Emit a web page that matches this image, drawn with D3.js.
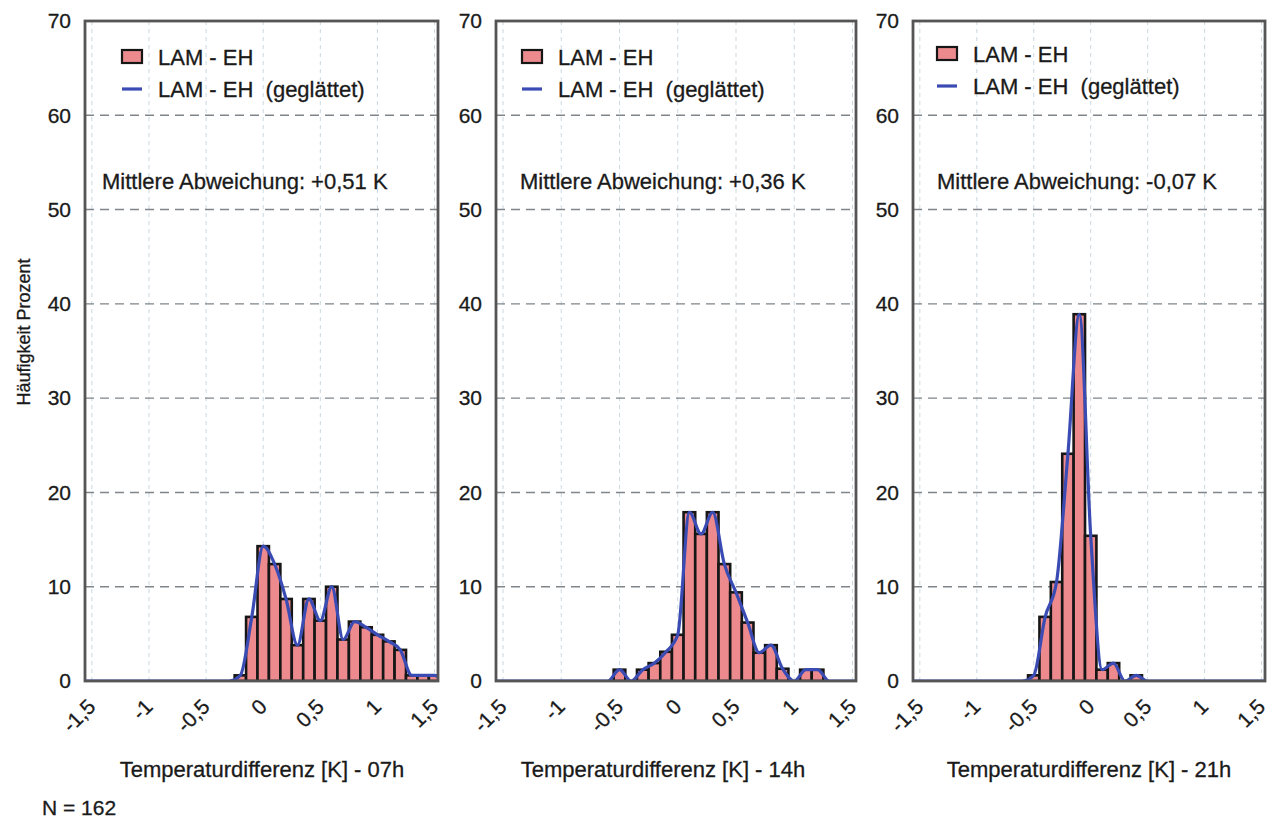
<!DOCTYPE html>
<html lang="de">
<head>
<meta charset="utf-8">
<title>Temperaturdifferenz LAM - EH</title>
<script src="https://cdn.jsdelivr.net/npm/d3@7"></script>
<style>
  html, body { margin: 0; padding: 0; background: #fff; }
  svg { display: block; font-family: "Liberation Sans", Arial, sans-serif; }
  svg text { fill: #1a1a1a; stroke: #1a1a1a; stroke-width: 0.3px; }
</style>
</head>
<body>
<div id="grafico"></div>
<script>
// ==============================
// DATOS
// ==============================

// Klassenmitten (K) und Häufigkeit (%) je Termin
const klassen07 = [-0.2, -0.1, 0, 0.1, 0.2, 0.3, 0.4, 0.5, 0.6, 0.7, 0.8, 0.9, 1.0, 1.1, 1.2, 1.3, 1.4, 1.5];
const werte07   = [0.6, 6.8, 14.3, 12.4, 8.7, 3.8, 8.7, 6.4, 10.0, 4.4, 6.3, 5.7, 4.9, 4.2, 3.3, 0.6, 0.6, 0.6];

const klassen14 = [-0.5, -0.4, -0.3, -0.2, -0.1, 0, 0.1, 0.2, 0.3, 0.4, 0.5, 0.6, 0.7, 0.8, 0.9, 1.0, 1.1, 1.2];
const werte14   = [1.2, 0, 1.2, 1.9, 3.1, 4.9, 17.9, 15.6, 17.9, 12.4, 9.4, 6.2, 3.0, 3.8, 1.3, 0, 1.2, 1.2];

const klassen21 = [-0.5, -0.4, -0.3, -0.2, -0.1, 0, 0.1, 0.2, 0.3, 0.4];
const werte21   = [0.6, 6.8, 10.5, 24.1, 38.9, 15.4, 1.2, 1.9, 0, 0.6];

const achsenTitel = ["Temperaturdifferenz [K] - 07h", "Temperaturdifferenz [K] - 14h", "Temperaturdifferenz [K] - 21h"];
const abweichungen = ["Mittlere Abweichung: +0,51 K", "Mittlere Abweichung: +0,36 K", "Mittlere Abweichung: -0,07 K"];

const yTicks = [0, 10, 20, 30, 40, 50, 60, 70];
const xTicks = [-1.5, -1, -0.5, 0, 0.5, 1, 1.5];
const xTickLabels = ["-1,5", "-1", "-0,5", "0", "0,5", "1", "1,5"];

const leyendaTextos = ["LAM - EH", "LAM - EH  (geglättet)"];
const yTitel = "Häufigkeit Prozent";
const anzahlText = "N = 162";

// ==============================
// CONFIGURACIÓN
// ==============================

const WIDTH = 1277;
const HEIGHT = 821;
const TOP = 21;
const BASE = 681;
const X_DOMINIO = [-1.56, 1.53];
const ANCHO_CLASE = 0.1;
const FUENTE = 22;

const COLOR_BARRA = "#ec8a8e";
const COLOR_LINEA = "#3a4bb3";
const COLOR_MARCO = "#555";

const paneles = [
  { izq: 85,  der: 438,  klassen: klassen07, werte: werte07, leyX: 122, leyDy: 0,  textoX: 102, tituloX: 262 },
  { izq: 496, der: 856,  klassen: klassen14, werte: werte14, leyX: 522, leyDy: 0,  textoX: 520, tituloX: 663 },
  { izq: 913, der: 1265, klassen: klassen21, werte: werte21, leyX: 937, leyDy: -3, textoX: 937, tituloX: 1089 }
];

// ==============================
// SVG BASE
// ==============================

const svg = d3.select("#grafico").append("svg")
  .attr("width", WIDTH)
  .attr("height", HEIGHT);

svg.append("rect")
  .attr("width", WIDTH)
  .attr("height", HEIGHT)
  .attr("fill", "#fff");

const y = d3.scaleLinear().domain([0, 70]).range([BASE, TOP]);

// ==============================
// PANELES
// ==============================

paneles.forEach((p, i) => {
  const x = d3.scaleLinear().domain(X_DOMINIO).range([p.izq, p.der]);
  const g = svg.append("g");

  const clipId = "clip-" + i;
  svg.append("clipPath").attr("id", clipId)
    .append("rect")
    .attr("x", p.izq).attr("y", TOP)
    .attr("width", p.der - p.izq).attr("height", BASE - TOP);

  // rejilla vertical
  g.selectAll(".vgrid")
    .data(xTicks)
    .join("line")
    .attr("x1", d => x(d)).attr("x2", d => x(d))
    .attr("y1", TOP).attr("y2", BASE)
    .attr("stroke", "#c9d9e0")
    .attr("stroke-width", 1)
    .attr("stroke-dasharray", "4,4");

  // rejilla horizontal
  g.selectAll(".hgrid")
    .data(yTicks.filter(d => d > 0 && d < 70))
    .join("line")
    .attr("x1", p.izq).attr("x2", p.der)
    .attr("y1", d => y(d)).attr("y2", d => y(d))
    .attr("stroke", "#7f858a")
    .attr("stroke-width", 1.4)
    .attr("stroke-dasharray", "9,6");

  const datos = p.klassen.map((k, j) => ({ k, v: p.werte[j] }));
  const plot = g.append("g").attr("clip-path", `url(#${clipId})`);

  // barras del histograma
  plot.selectAll("rect")
    .data(datos.filter(d => d.v > 0))
    .join("rect")
    .attr("x", d => x(d.k - ANCHO_CLASE / 2))
    .attr("width", d => x(d.k + ANCHO_CLASE / 2) - x(d.k - ANCHO_CLASE / 2))
    .attr("y", d => y(d.v))
    .attr("height", d => BASE - y(d.v))
    .attr("fill", COLOR_BARRA)
    .attr("stroke", "#161616")
    .attr("stroke-width", 2.6);

  // curva suavizada
  const primera = datos[0].k, ultima = datos[datos.length - 1].k;
  const puntos = [
    { k: X_DOMINIO[0], v: 0 },
    { k: primera - ANCHO_CLASE, v: 0 },
    ...datos,
    { k: ultima + ANCHO_CLASE, v: 0 },
    { k: X_DOMINIO[1] + 0.2, v: 0 }
  ];

  const linea = d3.line()
    .x(d => x(d.k))
    .y(d => y(d.v))
    .curve(d3.curveMonotoneX);

  plot.append("path")
    .datum(puntos)
    .attr("d", linea)
    .attr("fill", "none")
    .attr("stroke", COLOR_LINEA)
    .attr("stroke-width", 3.2);

  // marco
  g.append("rect")
    .attr("x", p.izq).attr("y", TOP)
    .attr("width", p.der - p.izq).attr("height", BASE - TOP)
    .attr("fill", "none")
    .attr("stroke", COLOR_MARCO)
    .attr("stroke-width", 2.8);

  // etiquetas eje Y
  g.selectAll(".ytick")
    .data(yTicks)
    .join("text")
    .attr("x", p.izq - 14)
    .attr("y", d => y(d))
    .attr("dy", "0.35em")
    .attr("text-anchor", "end")
    .attr("font-size", 21)
    .text(d => d);

  // etiquetas eje X (rotadas)
  g.selectAll(".xtick")
    .data(xTicks)
    .join("text")
    .attr("transform", d => `translate(${x(d) + 5},${BASE + 27}) rotate(-45)`)
    .attr("text-anchor", "end")
    .attr("font-size", 21)
    .text((d, j) => xTickLabels[j]);

  // título eje X
  g.append("text")
    .attr("x", p.tituloX)
    .attr("y", 777)
    .attr("text-anchor", "middle")
    .attr("font-size", FUENTE)
    .text(achsenTitel[i]);

  // mittlere Abweichung
  g.append("text")
    .attr("x", p.textoX)
    .attr("y", 189)
    .attr("font-size", FUENTE)
    .text(abweichungen[i]);

  // ==============================
  // LEYENDA
  // ==============================

  const ley = g.append("g").attr("transform", `translate(${p.leyX},${p.leyDy})`);

  ley.append("rect")
    .attr("x", 0).attr("y", 50)
    .attr("width", 20).attr("height", 13)
    .attr("fill", COLOR_BARRA)
    .attr("stroke", "#161616")
    .attr("stroke-width", 2.2);

  ley.append("line")
    .attr("x1", 0).attr("x2", 20)
    .attr("y1", 89).attr("y2", 89)
    .attr("stroke", COLOR_LINEA)
    .attr("stroke-width", 3.2);

  ley.selectAll(".leytxt")
    .data(leyendaTextos)
    .join("text")
    .attr("x", 36)
    .attr("y", (d, j) => j === 0 ? 65 : 97)
    .attr("font-size", FUENTE)
    .style("white-space", "pre")
    .text(d => d);
});

// ==============================
// TEXTOS GENERALES
// ==============================

svg.append("text")
  .attr("transform", "translate(30,332) rotate(-90)")
  .attr("text-anchor", "middle")
  .attr("font-size", 18)
  .text(yTitel);

svg.append("text")
  .attr("x", 42)
  .attr("y", 815)
  .attr("font-size", 21)
  .text(anzahlText);
</script>
</body>
</html>
